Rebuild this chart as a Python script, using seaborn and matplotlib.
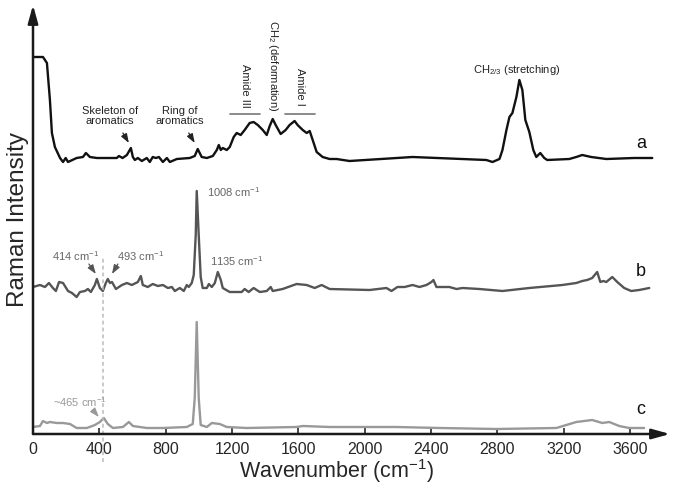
import numpy as np
import pandas as pd
import matplotlib
matplotlib.use("Agg")
import matplotlib.pyplot as plt
import seaborn as sns

sns.set_theme(style="white")
plt.rcParams["font.family"] = ["Liberation Sans", "DejaVu Sans"]
plt.rcParams["mathtext.fontset"] = "custom"
plt.rcParams["mathtext.rm"] = "Liberation Sans"
plt.rcParams["mathtext.it"] = "Liberation Sans:italic"

## 1. Spectra (wavenumber in cm-1, stacked intensity, a.u.)
# a: black, top
wn_a = [0, 60, 84, 102, 114, 132, 163, 181, 197, 211, 263, 301, 319, 343, 385,
        505, 518, 540, 566, 590, 602, 614, 632, 656, 686, 704, 722, 741, 759,
        783, 807, 825, 867, 945, 975, 993, 1017, 1048, 1084, 1108, 1120, 1132,
        1144, 1168, 1186, 1210, 1228, 1252, 1276, 1306, 1330, 1355, 1385, 1409,
        1427, 1445, 1463, 1493, 1523, 1547, 1577, 1595, 1626, 1650, 1668, 1686,
        1710, 1746, 1788, 1830, 1908, 2288, 2733, 2770, 2812, 2830, 2854, 2872,
        2890, 2914, 2932, 2950, 2968, 2992, 3016, 3034, 3058, 3082, 3100, 3233,
        3275, 3311, 3365, 3456, 3624, 3733]
int_a = [377, 377, 371, 334, 301, 287, 276, 272, 276, 272, 276, 277, 281, 277, 276,
         276, 278, 276, 279, 286, 277, 274, 276, 273, 276, 272, 277, 276, 277,
         272, 276, 272, 275, 276, 278, 285, 277, 276, 278, 284, 289, 284,
         286, 284, 287, 297, 301, 299, 304, 311, 312, 309, 304, 299,
         308, 315, 309, 300, 304, 309, 313, 309, 304, 301, 303, 294,
         282, 277, 275, 275, 273, 277, 274, 272, 275, 284, 304, 317,
         321, 337, 354, 344, 314, 302, 284, 277, 281, 276, 274, 275,
         277, 279, 277, 275, 276, 276]

# b: dark grey, middle
wn_b = [0, 42, 72, 96, 120, 138, 157, 181, 211, 235, 263, 283, 313, 331, 349,
        373, 385, 403, 421, 439, 451, 464, 476, 500, 536, 566, 596, 620, 632,
        650, 662, 692, 722, 753, 783, 813, 837, 855, 885, 909, 927, 939, 957,
        969, 981, 987, 999, 1011, 1023, 1048, 1060, 1078, 1096, 1114, 1132,
        1144, 1186, 1228, 1258, 1276, 1300, 1330, 1367, 1409, 1433, 1445, 1505,
        1589, 1650, 1698, 1740, 1776, 1788, 2029, 2131, 2161, 2197, 2240, 2288,
        2330, 2372, 2402, 2414, 2432, 2510, 2553, 2589, 2691, 2830, 2992, 3191,
        3275, 3311, 3341, 3371, 3401, 3420, 3438, 3456, 3492, 3522, 3564, 3606,
        3654, 3715]
int_b = [147, 149, 147, 151, 146, 143, 152, 151, 143, 141, 137, 142, 143, 145, 142,
         149, 155, 146, 143, 151, 155, 151, 152, 145, 149, 151, 149, 151, 152,
         158, 149, 147, 150, 148, 149, 146, 147, 143, 146, 143, 149, 147, 151,
         159, 199, 243, 199, 157, 146, 146, 150, 147, 151, 162, 154,
         146, 142, 142, 142, 145, 142, 146, 142, 143, 147, 143, 145,
         150, 149, 146, 149, 146, 145, 144, 146, 143, 147, 147, 149,
         147, 149, 152, 154, 147, 147, 145, 146, 145, 143, 146, 149,
         151, 153, 154, 156, 162, 152, 153, 152, 157, 152, 146, 143,
         144, 146]

# c: light grey, bottom
wn_c = [0, 42, 60, 84, 102, 144, 181, 223, 263, 325, 373, 403, 427, 451, 482,
        542, 578, 602, 644, 686, 783, 927, 963, 975, 987, 999, 1011, 1048, 1078,
        1126, 1168, 1288, 1589, 1626, 1788, 2191, 2450, 2794, 3155, 3215, 3275,
        3371, 3432, 3474, 3534, 3594, 3684]
int_c = [7, 8, 13, 11, 12, 11, 11, 10, 6, 6, 9, 12, 16, 10, 6,
         7, 12, 8, 7, 6, 6, 7, 10, 36, 112, 36, 9, 7, 11,
         10, 7, 6, 7, 8, 7, 7, 6, 5, 6, 9, 12,
         14, 11, 12, 8, 6, 6]

spectra = pd.concat([
    pd.DataFrame({"Wavenumber": wn_a, "Intensity": int_a, "sample": "a"}),
    pd.DataFrame({"Wavenumber": wn_b, "Intensity": int_b, "sample": "b"}),
    pd.DataFrame({"Wavenumber": wn_c, "Intensity": int_c, "sample": "c"}),
])
colours = {"a": "#111111", "b": "#555555", "c": "#999999"}

## 2. Plot
fig = plt.figure(figsize=(6.75, 4.88), dpi=100)
ax = fig.add_axes([33 / 675, 54 / 488, 637 / 675, 429 / 488])

sns.lineplot(data=spectra, x="Wavenumber", y="Intensity", hue="sample",
             palette=colours, estimator=None, sort=False, lw=1.7,
             legend=False, ax=ax)

ax.set_xlim(0, 3840)
ax.set_ylim(0, 429)
ax.set_xticks(np.arange(0, 3601, 400))
ax.set_yticks([])
ax.tick_params(axis="x", direction="in", length=4, width=1.2, pad=6,
               labelsize=11.5, bottom=True)
for s in ax.spines.values():
    s.set_visible(False)

# axis lines with arrow heads
arrow = dict(arrowstyle="-|>,head_length=0.9,head_width=0.25", color="k",
             lw=1.8, shrinkA=0, shrinkB=0)
ax.annotate("", xy=(1, 0), xytext=(0, 0), xycoords="axes fraction",
            arrowprops=arrow, annotation_clip=False)
ax.annotate("", xy=(0, 1), xytext=(0, 0), xycoords="axes fraction",
            arrowprops=arrow, annotation_clip=False)

ax.set_xlabel("Wavenumber (cm$^{-1}$)", fontsize=15.5, x=0.477, labelpad=0)
ax.set_ylabel("Raman Intensity", fontsize=17.5, labelpad=3)

# dashed guide line at ~421 cm-1
ax.plot([421, 421], [-28, 177], ls=(0, (2.5, 2)), color="#bbbbbb", lw=1.1,
        clip_on=False)

## 3. Annotations
small = dict(fontsize=8, color="#222222", ha="center", va="center")
tip = dict(arrowstyle="-|>,head_length=0.45,head_width=0.16", lw=0.9,
           shrinkA=0, shrinkB=0)

ax.text(464, 318, "Skeleton of\naromatics", linespacing=1.1, **small)
ax.annotate("", xy=(578, 291), xytext=(542, 301),
            arrowprops=dict(tip, color="#222222"))
ax.text(885, 318, "Ring of\naromatics", linespacing=1.1, **small)
ax.annotate("", xy=(975, 291), xytext=(939, 301),
            arrowprops=dict(tip, color="#222222"))

ax.text(1276, 348, "Amide III", rotation=-90, **small)
ax.text(1445, 368, "CH$_2$ (deformation)", rotation=-90, **small)
ax.text(1607, 347, "Amide I", rotation=-90, **small)
ax.plot([1186, 1367], [320, 320], color="#777777", lw=1.2)
ax.plot([1517, 1698], [320, 320], color="#777777", lw=1.2)
ax.text(2914, 364, "CH$_{2/3}$ (stretching)", **small)

grey = dict(fontsize=8, color="#666666", va="center")
ax.text(1048, 242, "1008 cm$^{-1}$", ha="left", **grey)
ax.text(1066, 173, "1135 cm$^{-1}$", ha="left", **grey)
ax.text(259, 178, "414 cm$^{-1}$", ha="center", **grey)
ax.annotate("", xy=(379, 160), xytext=(337, 170),
            arrowprops=dict(tip, color="#555555"))
ax.text(650, 178, "493 cm$^{-1}$", ha="center", **grey)
ax.annotate("", xy=(476, 160), xytext=(512, 170),
            arrowprops=dict(tip, color="#555555"))
ax.text(283, 32, "~465 cm$^{-1}$", ha="center", fontsize=8, color="#999999",
        va="center")
ax.annotate("", xy=(397, 17), xytext=(361, 24),
            arrowprops=dict(tip, color="#999999"))

for lab, y in zip(["a", "b", "c"], [291, 162, 24]):
    ax.text(3666, y, lab, fontsize=13, color="#111111", ha="center",
            va="center")

fig.savefig("out.png", dpi=100)
